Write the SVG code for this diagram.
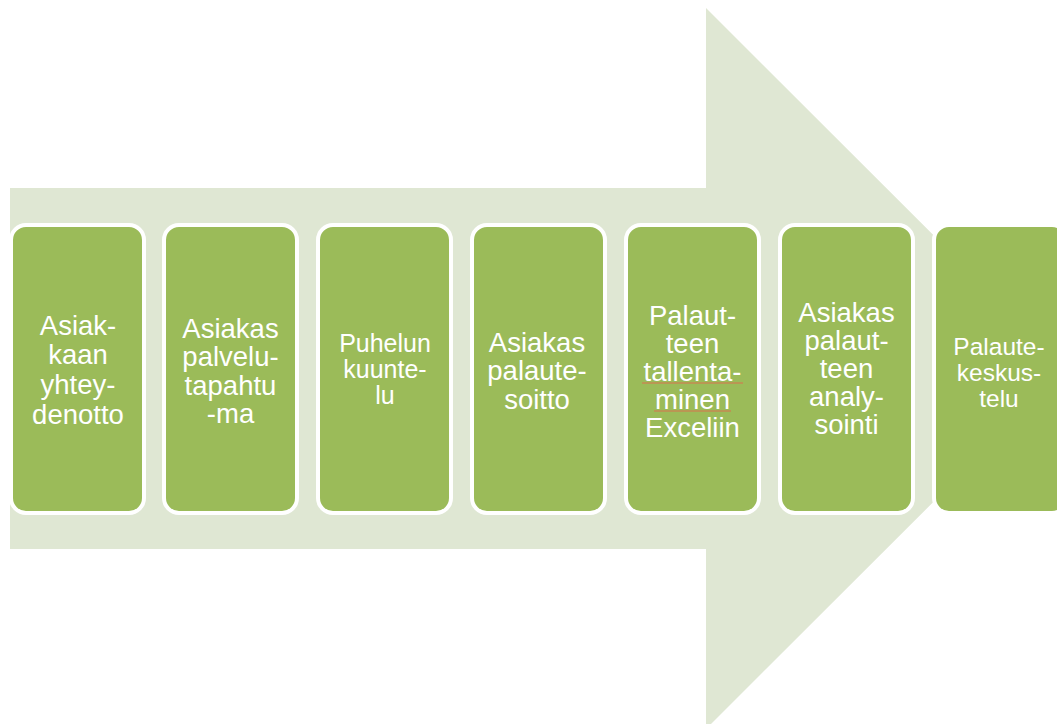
<svg xmlns="http://www.w3.org/2000/svg" width="1057" height="724" viewBox="0 0 1057 724">
<style>
.box{fill:#9BBB59;stroke:#FFFFFF;stroke-width:4}
.t{font-family:"Liberation Sans",Arial,sans-serif;fill:#FFFFFF;text-anchor:middle}
.big{font-size:27.5px}
.sm{font-size:25px}
.xs{font-size:24.5px}
.sq{stroke:#D9734E;stroke-width:1.2;fill:none}
</style>
<rect width="1057" height="724" fill="#FFFFFF"/>
<g id="arrow">
<polygon points="10,188 706,188 706,8 1067,368.5 706,729 706,549 10,549" fill="#DFE7D3"/>
</g>
<g id="connectors"></g>
<g id="n1">
<rect class="box" x="11" y="225" width="133" height="288" rx="15"/>
<text class="t big"><tspan x="78" y="334.5">Asiak-</tspan><tspan x="78" y="364">kaan</tspan><tspan x="78" y="394">yhtey-</tspan><tspan x="78" y="424">denotto</tspan></text>
</g>
<g id="n2">
<rect class="box" x="164" y="225" width="133" height="288" rx="15"/>
<text class="t big"><tspan x="230.5" y="337.5">Asiakas</tspan><tspan x="230.5" y="366">palvelu-</tspan><tspan x="230.5" y="394.5">tapahtu</tspan><tspan x="230.5" y="423">-ma</tspan></text>
</g>
<g id="n3">
<rect class="box" x="318" y="225" width="133" height="288" rx="15"/>
<text class="t sm"><tspan x="385" y="351.5">Puhelun</tspan><tspan x="385" y="377.5">kuunte-</tspan><tspan x="385" y="403.5">lu</tspan></text>
</g>
<g id="n4">
<rect class="box" x="472" y="225" width="133" height="288" rx="15"/>
<text class="t big"><tspan x="537" y="351.5">Asiakas</tspan><tspan x="537" y="380">palaute-</tspan><tspan x="537" y="408.5">soitto</tspan></text>
</g>
<g id="n5">
<rect class="box" x="626" y="225" width="133" height="288" rx="15"/>
<text class="t big"><tspan x="692.5" y="324.5">Palaut-</tspan><tspan x="692.5" y="352.5">teen</tspan><tspan x="692.5" y="380.5">tallenta-</tspan><tspan x="692.5" y="408.5">minen</tspan><tspan x="692.5" y="436.5">Exceliin</tspan></text>
<line class="sq" x1="642" y1="383" x2="743" y2="383"/>
<line class="sq" x1="654" y1="411" x2="731" y2="411"/>
</g>
<g id="n6">
<rect class="box" x="780" y="225" width="133" height="288" rx="15"/>
<text class="t big"><tspan x="846.5" y="321.5">Asiakas</tspan><tspan x="846.5" y="349.5">palaut-</tspan><tspan x="846.5" y="377.5">teen</tspan><tspan x="846.5" y="405.5">analy-</tspan><tspan x="846.5" y="433.5">sointi</tspan></text>
</g>
<g id="n7">
<rect class="box" x="934" y="225" width="133" height="288" rx="15"/>
<text class="t xs"><tspan x="999" y="354.5">Palaute-</tspan><tspan x="999" y="380.5">keskus-</tspan><tspan x="999" y="406.5">telu</tspan></text>
</g>
</svg>
